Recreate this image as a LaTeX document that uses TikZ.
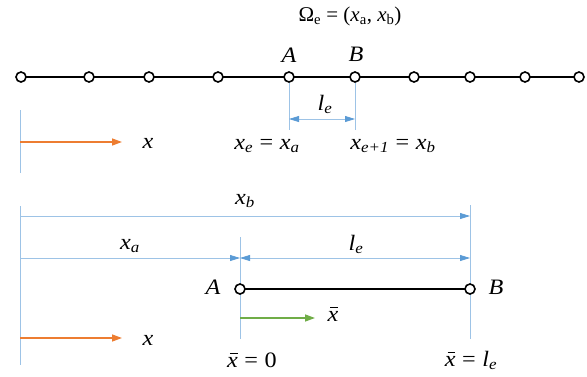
\documentclass[tikz,border=0pt]{standalone}
\usepackage{fontspec}
\setmainfont{Liberation Serif}
\newfontfamily\mfont[FakeStretch=1.1]{Liberation Serif}
\usetikzlibrary{arrows.meta}
\definecolor{dimblue}{HTML}{9DC3E6}
\definecolor{tipblue}{HTML}{5B9BD5}
\definecolor{axorange}{HTML}{ED7D31}
\definecolor{axgreen}{HTML}{70AD47}
\newcommand{\iv}[1]{\textit{#1}}
\newcommand{\xbr}{\ooalign{\iv{x}\cr\hidewidth\kern0.12em\raisebox{0.58em}{\rule{0.36em}{0.05em}}\hidewidth\cr}}
\newcommand{\eqs}{\hspace{0.3em}=\hspace{0.3em}}
\tikzset{
  elnode/.style={circle, draw=black, fill=white, line width=1.6pt, minimum size=10pt, inner sep=0pt},
  bar/.style={line width=1.8pt, black},
  dimline/.style={draw=dimblue, line width=0.8pt},
  dimarrow/.style={dimline, -{Triangle[length=10pt,width=6pt,fill=tipblue,color=tipblue]}},
  dimboth/.style={dimline, {Triangle[length=10pt,width=6pt,fill=tipblue,color=tipblue]}-{Triangle[length=10pt,width=6pt,fill=tipblue,color=tipblue]}},
  orangearrow/.style={draw=axorange, line width=1.4pt, -{Triangle[length=10pt,width=7pt]}},
  greenarrow/.style={draw=axgreen, line width=1.4pt, -{Triangle[length=10pt,width=7pt]}},
  lbl/.style={font=\fontsize{21}{24}\selectfont, inner sep=1pt},
  mlbl/.style={font=\mfont\fontsize{22}{25}\selectfont, inner sep=1pt}
}
\begin{document}
\begin{tikzpicture}[x=1pt,y=-1pt]
\useasboundingbox (0,0) rectangle (587,376);
% top mesh
\foreach \i/\x in {1/21,2/89,3/149,4/218,5/289,6/355,7/414,8/470,9/525,10/579}{
  \coordinate (p\i) at (\x,77);
}
\draw[bar] (p1) -- (p10);
\foreach \i in {1,...,10}{ \node[elnode] (n\i) at (p\i) {}; }
\node[mlbl] (labA) at (289,55) {\iv{A}};
\node[mlbl] (labB) at (356,54) {\iv{B}};
\node[lbl] (omega) at (350,16) {Ω\textsubscript{e} = (\iv{x}\textsubscript{a}, \iv{x}\textsubscript{b})};
% top dimension
\coordinate (ta1) at (289,130);
\coordinate (tb1) at (355,130);
\draw[dimline] (n5.south) -- (ta1);
\draw[dimline] (n6.south) -- (tb1);
\coordinate (la) at (289,119);
\coordinate (lb) at (355,119);
\draw[dimboth] (la) -- (lb);
\node[mlbl] (le1) at (325,104) {\iv{l\textsubscript{e}}};
\node[mlbl] (xexa) at (267,146) {\iv{x\textsubscript{e}}\eqs\iv{x\textsubscript{a}}};
\node[mlbl] (xexb) at (393,146) {\iv{x\textsubscript{e+1}}\eqs\iv{x\textsubscript{b}}};
% top axis
\coordinate (v1t) at (20,110);
\coordinate (v1b) at (20,173);
\draw[dimline] (v1t) -- (v1b);
\coordinate (ox1) at (20,142);
\coordinate (ox2) at (122,142);
\draw[orangearrow] (ox1) -- (ox2);
\node[mlbl] (xlab1) at (148,143) {\iv{x}};
% bottom part
\coordinate (v2t) at (20,206);
\coordinate (v2b) at (20,365);
\draw[dimline] (v2t) -- (v2b);
\coordinate (vAt) at (240,237);
\coordinate (vAb) at (240,339);
\draw[dimline] (vAt) -- (vAb);
\coordinate (vBt) at (470,205);
\coordinate (vBb) at (470,339);
\draw[dimline] (vBt) -- (vBb);
\coordinate (xb1) at (20,216);
\coordinate (xb2) at (470,216);
\draw[dimarrow] (xb1) -- (xb2);
\node[mlbl] (xblab) at (245,201) {\iv{x\textsubscript{b}}};
\coordinate (xa1) at (20,258);
\coordinate (xa2) at (240,258);
\draw[dimarrow] (xa1) -- (xa2);
\node[mlbl] (xalab) at (130,246) {\iv{x\textsubscript{a}}};
\coordinate (le2) at (470,258);
\draw[dimboth] (xa2) -- (le2);
\node[mlbl] (lelab) at (356,244) {\iv{l\textsubscript{e}}};
% element
\coordinate (eA) at (240,289);
\coordinate (eB) at (470,289);
\draw[bar] (eA) -- (eB);
\node[elnode] (nA) at (eA) {};
\node[elnode] (nB) at (eB) {};
\node[mlbl] (labA2) at (213,287) {\iv{A}};
\node[mlbl] (labB2) at (496,287) {\iv{B}};
% local axis
\coordinate (g1) at (240,318);
\coordinate (g2) at (315,318);
\draw[greenarrow] (g1) -- (g2);
\node[mlbl] (xbarlab) at (333,316) {\xbr};
\coordinate (ob1) at (20,338);
\coordinate (ob2) at (122,338);
\draw[orangearrow] (ob1) -- (ob2);
\node[mlbl] (xlab2) at (148,340) {\iv{x}};
\node[mlbl] (x0) at (252,360) {\xbr\eqs 0};
\node[mlbl] (xle) at (471,360) {\xbr\eqs\iv{l\textsubscript{e}}};
\end{tikzpicture}
\end{document}
